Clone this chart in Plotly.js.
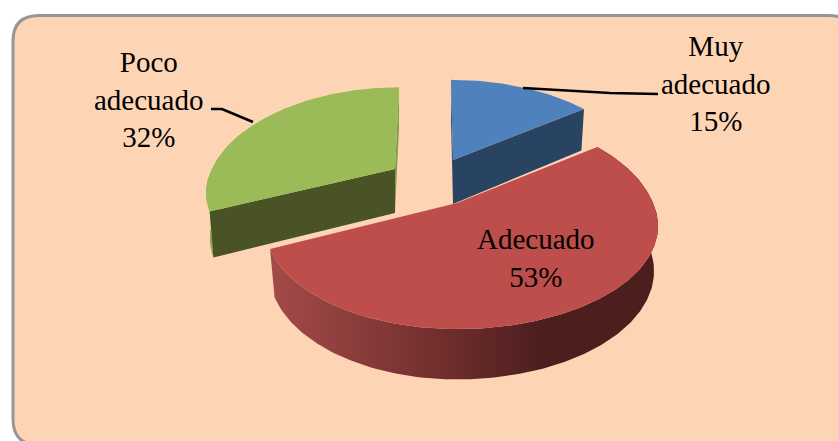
<!DOCTYPE html>
<html>
<head>
<meta charset="utf-8">
<script src="https://cdn.plot.ly/plotly-3.0.1.min.js"></script>
<style>html,body{margin:0;padding:0;background:#fff}#chart{width:838px;height:441px}</style>
</head>
<body>
<div id="chart"></div>
<script>
// ---- data ----
var categories = ['Muy adecuado', 'Adecuado', 'Poco adecuado'];
var values = [15, 53, 32];
var labelLines = [['Muy', 'adecuado'], ['Adecuado'], ['Poco', 'adecuado']];

// ---- styling / projection of the sliced disc ----
var topColors = ['#4f81bd', '#bd4e4b', '#9bbb59'];
var slices = [
  {cx: 453, cy: 160, aL: 185, aR: 185, shear: -2.5, back: 1, front: 1},
  {cx: 457, cy: 203, aL: 187, aR: 196, shear: 0, back: 1.1, front: 1},
  {cx: 395, cy: 169, aL: 183, aR: 183, shear: 5, back: 1.02, front: 0.92}
];
var K = 0.223, B = 98, DEPTH = 44, BOTTOM_X = 0.98, BOTTOM_Y = 1.05;

function project(s, deg, bottom) {
  var t = deg * Math.PI / 180, X = Math.sin(t), Y = Math.cos(t), w = 1 / (1 + K * Y);
  var a = X < 0 ? s.aL : s.aR;
  var dx = (a * X + s.shear * Y) * w, dy = -B * Y * w * (Y > 0 ? s.back : s.front);
  if (bottom) return [s.cx + dx * BOTTOM_X, s.cy + DEPTH + dy * BOTTOM_Y];
  return [s.cx + dx, s.cy + dy];
}
function arc(s, d0, d1, bottom) {
  var pts = [], n = Math.max(2, Math.ceil(Math.abs(d1 - d0)));
  for (var i = 0; i <= n; i++) pts.push(project(s, d0 + (d1 - d0) * i / n, bottom));
  return pts;
}
function poly(pts, color, extra) {
  var tr = {
    x: pts.map(function (p) { return p[0]; }),
    y: pts.map(function (p) { return p[1]; }),
    mode: 'lines', fill: 'toself', fillcolor: color,
    line: {width: 0, color: color}, hoverinfo: 'skip', showlegend: false
  };
  for (var k in extra) tr[k] = extra[k];
  return tr;
}
function apex(s, bottom) { return bottom ? [s.cx, s.cy + DEPTH] : [s.cx, s.cy]; }
function cutFace(s, deg, color) {
  return poly([apex(s, false), project(s, deg, false), project(s, deg, true), apex(s, true)], color);
}
function rim(s, d0, d1, color, extra) {
  return poly(arc(s, d0, d1, false).concat(arc(s, d1, d0, true)), color, extra);
}
function topFace(s, d0, d1, color) {
  return poly([apex(s, false)].concat(arc(s, d0, d1, false)), color);
}

var total = values.reduce(function (a, b) { return a + b; }, 0);
var bounds = [], acc = 0;
values.forEach(function (v) { bounds.push([acc / total * 360, (acc + v) / total * 360]); acc += v; });

var b0 = bounds[0], b1 = bounds[1], b2 = bounds[2];
var traces = [
  // blue slice
  cutFace(slices[0], b0[0], '#2c4d75'),
  cutFace(slices[0], b0[1], '#284462'),
  topFace(slices[0], b0[0], b0[1], topColors[0]),
  // green slice
  cutFace(slices[2], b2[1], '#7f9e4a'),
  rim(slices[2], b2[0], b2[0] + 50, '#8aa64f'),
  cutFace(slices[2], b2[0], '#4a5325'),
  topFace(slices[2], b2[0], b2[1], topColors[2]),
  // red slice
  rim(slices[1], b1[0], b1[1], '#6b2b2a', {
    fillgradient: {
      type: 'horizontal', start: 270, stop: 650,
      colorscale: [[0, '#a44b49'], [0.47, '#6e2d2c'], [0.72, '#4c1e1e'], [1, '#4c1e1e']]
    }
  }),
  topFace(slices[1], b1[0], b1[1], topColors[1]),
  // leader lines
  {x: [523, 610, 658], y: [88, 93, 94], mode: 'lines', line: {color: '#000', width: 2.5}, hoverinfo: 'skip', showlegend: false},
  {x: [253, 222, 211], y: [122, 109, 109], mode: 'lines', line: {color: '#000', width: 2.5}, hoverinfo: 'skip', showlegend: false}
];

function labelText(i) {
  return labelLines[i].concat([Math.round(values[i] / total * 100) + '%']).join('<br>');
}
var labelPos = [[716, 83.5], [536, 257.5], [149, 99]];
var annotations = categories.map(function (c, i) {
  return {
    x: labelPos[i][0], y: labelPos[i][1], xref: 'x', yref: 'y', text: labelText(i),
    showarrow: false, align: 'center', xanchor: 'center', yanchor: 'middle',
    font: {family: '"Liberation Serif", serif', size: 29, color: '#000'}
  };
});

var layout = {
  width: 838, height: 441,
  margin: {l: 0, r: 0, t: 0, b: 0},
  paper_bgcolor: '#ffffff', plot_bgcolor: 'rgba(0,0,0,0)',
  showlegend: false,
  xaxis: {range: [0, 838], visible: false, fixedrange: true},
  yaxis: {range: [441, 0], visible: false, fixedrange: true},
  annotations: annotations,
  shapes: [{
    type: 'path', xref: 'x', yref: 'y', layer: 'below',
    path: 'M 39 15.5 L 828 15.5 Q 854 15.5 854 41 L 854 419 Q 854 445 828 445 L 39 445 Q 13 445 13 419 L 13 41 Q 13 15.5 39 15.5 Z',
    fillcolor: '#fdd5b5', line: {color: '#969696', width: 3}
  }]
};
Plotly.newPlot('chart', traces, layout, {displayModeBar: false, staticPlot: true});
</script>
</body>
</html>
